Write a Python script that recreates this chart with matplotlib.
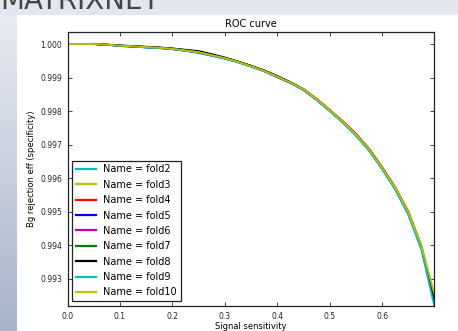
import numpy as np
import matplotlib
matplotlib.use('Agg')
from matplotlib import pyplot as plt
from matplotlib.patches import Rectangle

sensitivity = [0.0, 0.025, 0.05, 0.075, 0.1, 0.125, 0.15, 0.175, 0.2, 0.225, 0.25, 0.275,
               0.3, 0.325, 0.35, 0.375, 0.4, 0.425, 0.45, 0.475, 0.5, 0.525, 0.55, 0.575,
               0.6, 0.625, 0.65, 0.675, 0.699]

fold2 = [1.00000, 1.00000, 1.00000, 0.99998, 0.99995, 0.99993, 0.99990, 0.99988, 0.99985, 0.99980,
         0.99973, 0.99965, 0.99956, 0.99946, 0.99933, 0.99919, 0.99902, 0.99884, 0.99863, 0.99834,
         0.99801, 0.99767, 0.99728, 0.99683, 0.99628, 0.99567, 0.99493, 0.99390, 0.99232]
fold3 = [1.00000, 1.00000, 1.00001, 0.99999, 0.99996, 0.99993, 0.99991, 0.99989, 0.99986, 0.99982,
         0.99977, 0.99968, 0.99959, 0.99948, 0.99935, 0.99921, 0.99904, 0.99886, 0.99865, 0.99836,
         0.99803, 0.99769, 0.99731, 0.99687, 0.99632, 0.99573, 0.99501, 0.99399, 0.99250]
fold4 = [1.00000, 1.00000, 1.00000, 0.99998, 0.99995, 0.99993, 0.99991, 0.99989, 0.99985, 0.99981,
         0.99975, 0.99967, 0.99958, 0.99948, 0.99935, 0.99921, 0.99903, 0.99886, 0.99866, 0.99837,
         0.99804, 0.99770, 0.99733, 0.99688, 0.99633, 0.99573, 0.99500, 0.99397, 0.99245]
fold5 = [1.00000, 1.00000, 1.00000, 0.99998, 0.99994, 0.99992, 0.99990, 0.99988, 0.99985, 0.99980,
         0.99975, 0.99966, 0.99957, 0.99946, 0.99933, 0.99919, 0.99901, 0.99884, 0.99864, 0.99834,
         0.99801, 0.99767, 0.99729, 0.99684, 0.99629, 0.99569, 0.99495, 0.99393, 0.99238]
fold6 = [1.00000, 1.00000, 1.00000, 0.99998, 0.99995, 0.99993, 0.99991, 0.99989, 0.99986, 0.99981,
         0.99976, 0.99968, 0.99958, 0.99947, 0.99934, 0.99921, 0.99903, 0.99885, 0.99865, 0.99836,
         0.99802, 0.99769, 0.99732, 0.99687, 0.99631, 0.99571, 0.99497, 0.99396, 0.99242]
fold7 = [1.00000, 1.00000, 1.00000, 0.99998, 0.99995, 0.99993, 0.99991, 0.99989, 0.99986, 0.99982,
         0.99977, 0.99968, 0.99958, 0.99947, 0.99935, 0.99920, 0.99903, 0.99885, 0.99864, 0.99835,
         0.99802, 0.99768, 0.99730, 0.99685, 0.99630, 0.99570, 0.99496, 0.99394, 0.99240]
fold8 = [1.00000, 1.00000, 1.00000, 0.99998, 0.99996, 0.99994, 0.99992, 0.99990, 0.99987, 0.99983,
         0.99979, 0.99970, 0.99960, 0.99948, 0.99935, 0.99921, 0.99905, 0.99886, 0.99864, 0.99835,
         0.99802, 0.99768, 0.99730, 0.99685, 0.99630, 0.99570, 0.99496, 0.99394, 0.99239]
fold9 = [1.00000, 1.00000, 1.00000, 0.99998, 0.99995, 0.99993, 0.99990, 0.99988, 0.99985, 0.99980,
         0.99975, 0.99966, 0.99957, 0.99946, 0.99933, 0.99919, 0.99902, 0.99884, 0.99863, 0.99834,
         0.99800, 0.99766, 0.99727, 0.99682, 0.99627, 0.99566, 0.99491, 0.99387, 0.99222]
fold10 = [1.00000, 1.00000, 1.00000, 0.99998, 0.99995, 0.99993, 0.99991, 0.99989, 0.99986, 0.99981,
          0.99976, 0.99967, 0.99958, 0.99947, 0.99934, 0.99920, 0.99903, 0.99885, 0.99865, 0.99836,
          0.99803, 0.99769, 0.99731, 0.99686, 0.99631, 0.99572, 0.99499, 0.99399, 0.99258]

names = ['fold2', 'fold3', 'fold4', 'fold5', 'fold6', 'fold7', 'fold8', 'fold9', 'fold10']
folds = [fold2, fold3, fold4, fold5, fold6, fold7, fold8, fold9, fold10]
colors = ['c', 'y', 'r', 'b', 'm', 'g', 'k', 'c', 'y']

W, H = 458, 331
fig = plt.figure(figsize=(W / 100, H / 100), dpi=100)

# slide background: grey band on top, blue gradient strip on the left
fig.patches.append(Rectangle((0, 1 - 14 / H), 1, 14 / H, transform=fig.transFigure,
                             color='#e3e6ee', zorder=0))
bg = fig.add_axes([0, 0, 17 / W, 1 - 14 / H], zorder=-1)
grad = np.linspace(0, 1, 256).reshape(-1, 1)
cmap = matplotlib.colors.LinearSegmentedColormap.from_list('strip', ['#e8ebf2', '#a7b3ca'])
bg.imshow(grad, aspect='auto', cmap=cmap)
bg.axis('off')
# slide heading, mostly cut off by the top edge of the screenshot
fig.text(0.0, 1 - 9 / H, 'MATRIXNET', fontsize=20, color='#444444', va='baseline', ha='left')

ax = fig.add_axes([67.5 / W, 1 - 306 / H, (434 - 67.5) / W, (306 - 32.3) / H])

for name, ys, c in zip(names, folds, colors):
    ax.plot(sensitivity, ys, color=c, lw=1.3, label='Name = ' + name)

ax.set_xlim(0, 0.699)
ax.set_ylim(0.99219, 1.00035)
ax.set_xticks([0.0, 0.1, 0.2, 0.3, 0.4, 0.5, 0.6])
ax.set_yticks([0.993, 0.994, 0.995, 0.996, 0.997, 0.998, 0.999, 1.000])
ax.yaxis.set_major_formatter(matplotlib.ticker.FormatStrFormatter('%.3f'))
ax.xaxis.set_major_formatter(matplotlib.ticker.FormatStrFormatter('%.1f'))
ax.tick_params(direction='in', top=True, right=True, labelsize=5.5, length=3,
               width=0.6, colors='#222222', pad=4)
for s in ax.spines.values():
    s.set_linewidth(0.9)
    s.set_color('#222222')

ax.set_title('ROC curve', fontsize=7, pad=4)
ax.set_xlabel('Signal sensitivity', fontsize=6, labelpad=1)
ax.set_ylabel('Bg rejection eff (specificity)', fontsize=6, labelpad=3)

leg = ax.legend(loc='lower left', fontsize=7, fancybox=False, labelspacing=0.55,
                handlelength=2.0, borderaxespad=0.5, framealpha=1)
leg.get_frame().set_edgecolor('#222222')
leg.get_frame().set_linewidth(0.9)
for line in leg.get_lines():
    line.set_linewidth(1.6)

fig.savefig('out.png', dpi=100)
